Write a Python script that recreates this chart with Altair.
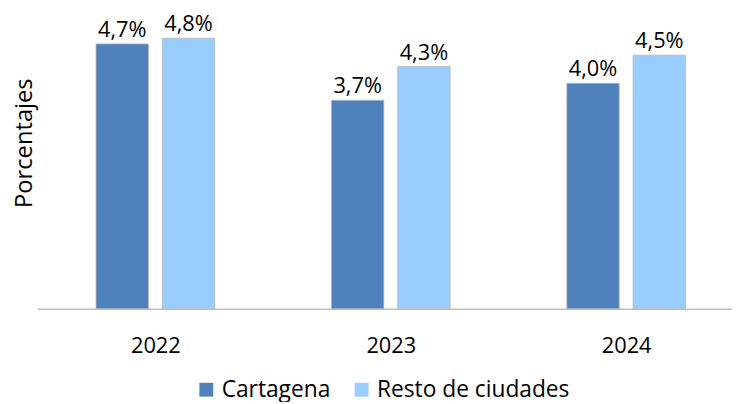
import altair as alt
import pandas as pd

years = ["2022", "2023", "2024"]
series = ["Cartagena", "Resto de ciudades"]
cartagena = [4.7, 3.7, 4.0]
resto = [4.8, 4.3, 4.5]
colors = ["#4F81BD", "#99CCFF"]

rows = []
for i, yr in enumerate(years):
    rows.append({"idx": i, "year": yr, "serie": series[0], "value": cartagena[i]})
    rows.append({"idx": i, "year": yr, "serie": series[1], "value": resto[i]})
df = pd.DataFrame(rows)
df["label"] = df["value"].map(lambda v: f"{v:.1f}".replace(".", ",") + "%")

FONT = "Open Sans"
label_expr = "[" + ",".join(f"'{y}'" for y in years) + "][datum.value]"

x = alt.X(
    "idx:Q",
    scale=alt.Scale(domain=[-0.5, 2.4496], nice=False, zero=False, padding=0),
    axis=alt.Axis(
        title=None, values=[0, 1, 2], labelExpr=label_expr, labelAngle=0,
        ticks=False, grid=False, domainColor="#BFBFBF", domainWidth=1.5,
        labelFontSize=22, labelPadding=27, labelColor="#000000", labelFont=FONT,
        labelFlush=False, labelOverlap=False,
    ),
)
y = alt.Y(
    "value:Q",
    stack=None,
    scale=alt.Scale(domain=[0, 5], nice=False, padding=0),
    axis=alt.Axis(
        title="Porcentajes", labels=False, ticks=False, domain=False, grid=False,
        titleFont=FONT, titleFontSize=24, titleFontWeight="normal", titleColor="#000000",
        titleX=-13, titleY=117, titleAlign="center", titleBaseline="middle", titleAngle=270,
    ),
)
color = alt.Color(
    "serie:N", sort=series,
    scale=alt.Scale(domain=series, range=colors),
    legend=alt.Legend(
        title=None, orient="none", legendX=159, legendY=355, direction="horizontal",
        symbolType="square", symbolSize=196, symbolStrokeWidth=0, labelFontSize=23,
        labelFont=FONT, labelColor="#000000", columnPadding=20, labelOffset=4,
        labelLimit=400,
    ),
)

base = alt.Chart(df)
layers = []
for s, off in zip(series, [-33.5, 33.5]):
    sub = base.transform_filter(alt.datum.serie == s)
    layers.append(
        sub.mark_bar(width=53, xOffset=off, stroke="#B8B8B8", strokeWidth=0.8)
        .encode(x=x, y=y, color=color)
    )
    layers.append(
        sub.mark_text(font=FONT, fontSize=22, baseline="alphabetic", dy=-7, dx=off,
                      color="#000000")
        .encode(x=x, y=y, text="label:N")
    )

chart = (
    alt.layer(*layers)
    .properties(
        width=702, height=285,
        autosize=alt.AutoSizeParams(type="none"),
        padding={"left": 30, "top": 17, "right": 0, "bottom": 92},
        background="white",
    )
    .configure_view(stroke=None)
)

chart.save("out.html", embed_options={"renderer": "svg", "actions": False})
